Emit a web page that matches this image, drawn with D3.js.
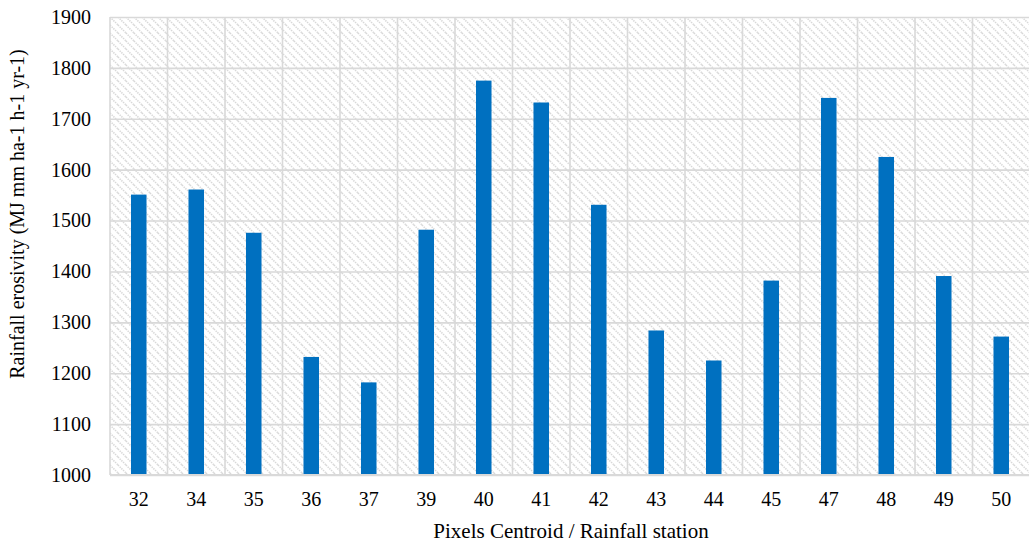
<!DOCTYPE html>
<html>
<head>
<meta charset="utf-8">
<script src="https://cdn.jsdelivr.net/npm/d3@7"></script>
<style>
    text { font-family: "Liberation Serif" !important; }
</style>
</head>
<body style="margin:0">
<div id="chart"></div>
<script>
// Rainfall erosivity per pixel centroid / rainfall station
const stations = ['32', '34', '35', '36', '37', '39', '40', '41', '42', '43', '44', '45', '47', '48', '49', '50'];
const erosivity = [1551, 1561, 1476, 1232, 1182, 1482, 1775, 1732, 1531, 1284, 1225, 1382, 1741, 1625, 1391, 1272];
const yTicks = [1000, 1100, 1200, 1300, 1400, 1500, 1600, 1700, 1800, 1900];

const serif = '"Liberation Serif"';

function drawChart() {
    const W = 1029, H = 542;
    const margin = { top: 17, right: -1, bottom: 67, left: 110 };
    const width = W - margin.left - margin.right;
    const height = H - margin.top - margin.bottom;

    const svg = d3.select('#chart').append('svg')
        .attr('width', W)
        .attr('height', H)
        .attr('font-family', 'Liberation Serif')
        .style('font-family', serif);

    // hatch fill of the plot area
    const pat = svg.append('defs').append('pattern')
        .attr('id', 'hatch')
        .attr('patternUnits', 'userSpaceOnUse')
        .attr('width', 8)
        .attr('height', 8);
    pat.append('rect').attr('width', 8).attr('height', 8).attr('fill', '#fff');
    pat.append('path')
        .attr('d', 'M0,0 L8,8 M-2,6 L2,10 M6,-2 L10,2')
        .attr('stroke', '#d8d8d8')
        .attr('stroke-width', 1.5)
        .attr('stroke-dasharray', '1.4 1');

    const g = svg.append('g')
        .attr('transform', `translate(${margin.left},${margin.top})`);

    const x = d3.scaleBand()
        .domain(stations)
        .range([0, width])
        .paddingInner(0)
        .paddingOuter(0);

    const y = d3.scaleLinear()
        .domain([1000, 1900])
        .range([height, 0]);

    g.append('rect')
        .attr('width', width)
        .attr('height', height)
        .attr('fill', 'url(#hatch)');

    // Grid
    g.append('g')
        .attr('class', 'grid')
        .call(d3.axisLeft(y).tickValues(yTicks).tickSize(-width).tickFormat(''))
        .call(s => s.select('.domain').remove())
        .selectAll('line')
        .attr('stroke', '#d9d9d9')
        .attr('stroke-width', 1.6);

    const xEdges = stations.map(d => x(d)).concat([width]);
    g.append('g')
        .attr('class', 'grid')
        .selectAll('line')
        .data(xEdges)
        .enter()
        .append('line')
        .attr('x1', d => d)
        .attr('x2', d => d)
        .attr('y1', 0)
        .attr('y2', height)
        .attr('stroke', '#d9d9d9')
        .attr('stroke-width', 1.6);

    // Bars
    const barW = x.bandwidth() * 0.27;
    g.selectAll('.bar')
        .data(erosivity)
        .enter()
        .append('rect')
        .attr('class', 'bar')
        .attr('x', (d, i) => x(stations[i]) + (x.bandwidth() - barW) / 2)
        .attr('y', d => y(d))
        .attr('width', barW)
        .attr('height', d => height - y(d))
        .attr('fill', '#0070c0');

    // bottom axis line
    g.append('line')
        .attr('x1', 0).attr('x2', width)
        .attr('y1', height).attr('y2', height)
        .attr('stroke', '#d9d9d9')
        .attr('stroke-width', 2);

    // Axes
    const yAxis = g.append('g')
        .call(d3.axisLeft(y).tickValues(yTicks).tickFormat(d3.format('d')).tickSize(0).tickPadding(19))
        .attr('font-family', 'Liberation Serif')
        .attr('font-size', 20);
    yAxis.select('.domain').remove();
    yAxis.selectAll('text')
        .style('font-family', serif)
        .style('font-size', '20px')
        .attr('fill', '#000');

    const xAxis = g.append('g')
        .attr('transform', `translate(0,${height})`)
        .call(d3.axisBottom(x).tickSize(0).tickPadding(17))
        .attr('font-family', 'Liberation Serif')
        .attr('font-size', 20);
    xAxis.select('.domain').remove();
    xAxis.selectAll('text')
        .style('font-family', serif)
        .style('font-size', '20px')
        .attr('fill', '#000');

    // Labels
    svg.append('text')
        .attr('x', 571)
        .attr('y', 538)
        .attr('text-anchor', 'middle')
        .style('font-family', serif)
        .style('font-size', '21px')
        .text('Pixels Centroid / Rainfall station');

    svg.append('text')
        .attr('transform', 'rotate(-90)')
        .attr('x', -214)
        .attr('y', 24)
        .attr('text-anchor', 'middle')
        .style('font-family', serif)
        .style('font-size', '20px')
        .text('Rainfall erosivity (MJ mm ha-1 h-1 yr-1)');
}

drawChart();
</script>
</body>
</html>
